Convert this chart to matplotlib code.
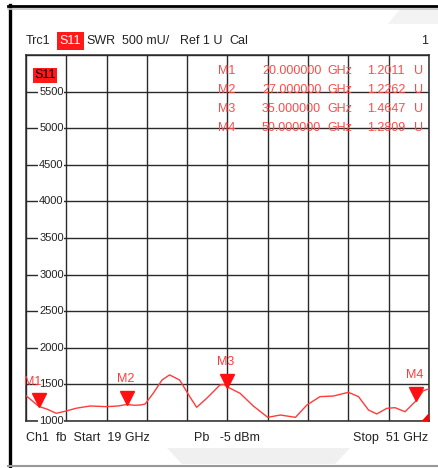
import matplotlib.pyplot as plt
from matplotlib.transforms import offset_copy
from matplotlib.patches import Polygon
import numpy as np

# trace: frequency (GHz) and SWR (mU)
freq = [19.0, 19.5, 20.0, 20.7, 21.4, 22.2, 23.0, 24.1, 25.4, 26.3, 27.0, 27.6,
        28.05, 28.45, 29.1, 29.8, 30.4, 31.2, 32.0, 32.55, 33.35, 34.4, 34.7, 35.0,
        36.0, 37.05, 38.2, 39.2, 40.4, 41.3, 42.35, 43.4, 44.6, 45.4, 46.2, 46.85,
        47.65, 48.3, 49.1, 50.0, 50.55, 51.0]
swr = [1346, 1275, 1201, 1160, 1105, 1137, 1175, 1205, 1196, 1205, 1226, 1215,
       1218, 1230, 1378, 1560, 1630, 1560, 1333, 1187, 1310, 1492, 1500, 1465,
       1378, 1205, 1050, 1082, 1050, 1218, 1333, 1341, 1392, 1333, 1150, 1096,
       1173, 1182, 1127, 1281, 1414, 1440]

marker_names = ["M1", "M2", "M3", "M4"]
marker_freq = [20.0, 27.0, 35.0, 50.0]
marker_val = [1201.1, 1226.2, 1464.7, 1280.9]
marker_freq_txt = ["20.000000", "27.000000", "35.000000", "50.000000"]
marker_val_txt = ["1.2011", "1.2262", "1.4647", "1.2809"]

yticks = [1000, 1500, 2000, 2500, 3000, 3500, 4000, 4500, 5000, 5500]

W, H = 438, 468
plt.rcParams['font.family'] = ['Liberation Sans', 'DejaVu Sans']
FS = 9

fig = plt.figure(figsize=(W / 100, H / 100), dpi=100)


def fx(x):
    return x / W


def fy(y):
    return 1 - y / H


# outer frame
fig.add_artist(plt.Line2D([fx(9.5), fx(9.5)], [fy(5), fy(468)], color='black', lw=2.4))
fig.add_artist(plt.Line2D([fx(8), fx(438)], [fy(6), fy(6)], color='black', lw=2.0))
fig.add_artist(plt.Line2D([fx(8), fx(438)], [fy(8.5), fy(8.5)], color='#c4c4c4', lw=1.2))
fig.add_artist(plt.Line2D([fx(8), fx(438)], [fy(466), fy(466)], color='#999999', lw=1.5))
# faint background shapes
fig.add_artist(Polygon([[fx(167), fy(448)], [fx(350), fy(448)], [fx(335), fy(464)], [fx(182), fy(464)]],
                       closed=True, facecolor='#f0f0f0', edgecolor='none', zorder=0))
fig.add_artist(Polygon([[fx(400), fy(9)], [fx(438), fy(9)], [fx(438), fy(24)], [fx(388), fy(24)]],
                       closed=True, facecolor='#f3f3f3', edgecolor='none', zorder=0))

ax = fig.add_axes([fx(26), fy(421), (429 - 26) / W, (421 - 55) / H])
ax.set_xlim(19, 51)
ax.set_ylim(1000, 6000)
ax.set_xticks(np.linspace(19, 51, 11))
ax.set_yticks(np.linspace(1000, 6000, 11))
ax.tick_params(left=False, bottom=False, labelleft=False, labelbottom=False)
ax.grid(True, color='#2a2a2a', lw=1.0)
for s in ax.spines.values():
    s.set_color('#2a2a2a')
    s.set_linewidth(1.1)

ax.plot(freq, swr, color='#ff3b3b', lw=1.0, zorder=3)

# y tick labels drawn inside the first column
for v in yticks:
    ax.text(0.063, v, str(v), transform=ax.get_yaxis_transform(), ha='center', va='center',
            fontsize=8, color='#222222', zorder=4,
            bbox=dict(facecolor='white', edgecolor='none', pad=0.5))

ax.text(0.02, 0.945, "S11", transform=ax.transAxes, ha='left', va='center', fontsize=FS,
        color='black', zorder=5, bbox=dict(facecolor='#ff1a1a', edgecolor='none', pad=1.0))

# markers
tri = offset_copy(ax.transData, fig=fig, y=4.6, units='points')
offsets = [(-4, 13), (-1, 14), (-1, 14), (-1, 14)]
for name, f, v, off in zip(marker_names, marker_freq, marker_val, offsets):
    ax.plot(f, v, marker='v', color='#ff1010', markersize=9.5, transform=tri, zorder=5, clip_on=False)
    ax.annotate(name, (f, v), xytext=off, textcoords='offset points', ha='center',
                va='bottom', fontsize=FS, color='#ff3b3b', zorder=5)

# small corner indicator
ax.add_patch(Polygon([[1.0, 0.0], [1.0, 0.022], [0.982, 0.0]], closed=True,
                     transform=ax.transAxes, facecolor='#ff0000', edgecolor='none',
                     zorder=6, clip_on=False))

# marker table
for i in range(4):
    y = fy(71 + 19 * i)
    c = '#ff4a4a'
    fig.text(fx(218), y, marker_names[i], ha='left', va='center', fontsize=FS, color=c)
    fig.text(fx(262), y, marker_freq_txt[i], ha='left', va='center', fontsize=FS, color=c)
    fig.text(fx(327), y, "GHz", ha='left', va='center', fontsize=FS, color=c)
    fig.text(fx(405), y, marker_val_txt[i], ha='right', va='center', fontsize=FS, color=c)
    fig.text(fx(414), y, "U", ha='left', va='center', fontsize=FS, color=c)

# header
hy = fy(41)
hdr = dict(va='center', fontsize=FS, color='#222222')
fig.text(fx(26), hy, "Trc1", ha='left', **hdr)
fig.text(fx(59.5), hy, "S11", ha='left', va='center', fontsize=FS, color='white',
         bbox=dict(facecolor='#ff1a1a', edgecolor='none', pad=2.0))
fig.text(fx(86), hy, "SWR", ha='left', **hdr)
fig.text(fx(122), hy, "500 mU/", ha='left', **hdr)
fig.text(fx(180), hy, "Ref 1 U", ha='left', **hdr)
fig.text(fx(229), hy, "Cal", ha='left', **hdr)
fig.text(fx(428), hy, "1", ha='right', **hdr)

# footer
by = fy(438)
fig.text(fx(26), by, "Ch1  fb  Start  19 GHz", ha='left', **hdr)
fig.text(fx(194), by, "Pb   -5 dBm", ha='left', **hdr)
fig.text(fx(428), by, "Stop  51 GHz", ha='right', **hdr)

fig.savefig("out.png", dpi=100)
